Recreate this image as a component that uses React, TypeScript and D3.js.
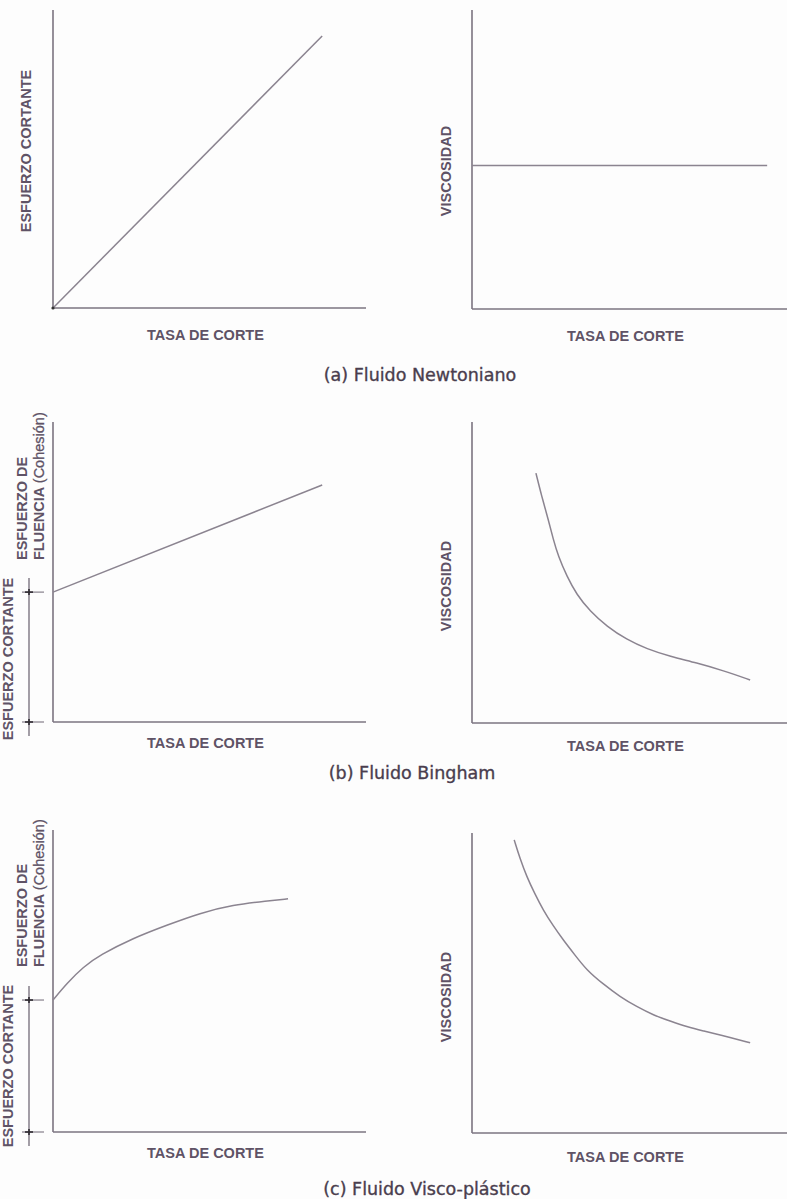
import * as d3 from 'd3';

// Normalised units: both axes go 0..10 in every panel
const newtonShear: [number, number][] = [[0, 0], [8.6, 9.13]];
const newtonVisc: [number, number][] = [[0, 4.8], [9.37, 4.8]];
const binghamShear: [number, number][] = [[0, 4.33], [8.6, 7.9]];
const binghamVisc: [number, number][] = [
  [2.03, 8.3], [2.21, 7.54], [2.42, 6.77], [2.58, 6.1], [2.74, 5.54], [3.01, 4.88],
  [3.32, 4.27], [3.75, 3.71], [4.28, 3.21], [4.91, 2.77], [5.55, 2.46], [6.29, 2.21],
  [7.13, 2.0], [7.98, 1.74], [8.83, 1.43],
];
const viscoShear: [number, number][] = [
  [0, 4.37], [0.45, 4.93], [0.96, 5.46], [1.5, 5.86], [2.56, 6.42], [3.64, 6.85],
  [4.7, 7.25], [5.75, 7.52], [6.84, 7.65], [7.51, 7.72],
];
const viscoVisc: [number, number][] = [
  [1.34, 9.77], [1.52, 9.16], [1.74, 8.54], [2.0, 7.96], [2.26, 7.43], [2.58, 6.9],
  [2.9, 6.43], [3.27, 5.93], [3.64, 5.43], [4.17, 4.96], [4.7, 4.54], [5.23, 4.21],
  [5.76, 3.93], [6.29, 3.73], [6.82, 3.54], [7.35, 3.4], [7.87, 3.27], [8.83, 3.01],
];
const yieldStress = [4.33, 4.37]; // bingham, visco-plastic
const captions = ['(a) Fluido Newtoniano', '(b) Fluido Bingham', '(c) Fluido Visco-plástico'];
const xTitle = 'TASA DE CORTE';
const shearTitle = 'ESFUERZO CORTANTE';
const viscTitle = 'VISCOSIDAD';
const yieldTitle = ['ESFUERZO DE', 'FLUENCIA'];

const W = 787;
const H = 1199;
const LINE = '#8b8490';
const AXIS = '#7b7480';
const TEXT = '#5f5366';
const LABEL_FONT = '"Liberation Sans", Arial, sans-serif';
const FS = 14.5;

const rows = [
  { left: [308, 10], right: [309, 10], caption: [420, 381], xt: [340, 341] },
  { left: [722, 422], right: [723, 422], caption: [412, 779], xt: [748, 751] },
  { left: [1132, 830], right: [1133, 833], caption: [427, 1195], xt: [1158, 1162] },
];

type Pt = [number, number];

function Panel({ xRange, yRange, data, curved, titleY }: {
  xRange: number[]; yRange: number[]; data: Pt[]; curved: boolean; titleY: number;
}) {
  const x = d3.scaleLinear().domain([0, 10]).range(xRange);
  const y = d3.scaleLinear().domain([0, 10]).range(yRange);
  const line = d3.line<Pt>()
    .x(d => x(d[0]))
    .y(d => y(d[1]))
    .curve(curved ? d3.curveBasis : d3.curveLinear);
  return (
    <g>
      <line x1={x(0)} x2={x(0)} y1={y(10)} y2={y(0)} stroke={AXIS} strokeWidth={1.6} />
      <line x1={x(0)} x2={x(10)} y1={y(0)} y2={y(0)} stroke={AXIS} strokeWidth={1.6} />
      <path d={line(data) || ''} fill="none" stroke={LINE} strokeWidth={1.5} />
      <text x={(xRange[0] + xRange[1]) / 2 - 4} y={titleY} textAnchor="middle"
        fontFamily={LABEL_FONT} fontWeight="bold" fontSize={FS} fill={TEXT}>{xTitle}</text>
    </g>
  );
}

function YieldBracket({ yRange, value }: { yRange: number[]; value: number }) {
  const y = d3.scaleLinear().domain([0, 10]).range(yRange);
  const top = y(value);
  const bottom = y(0);
  return (
    <g stroke={AXIS}>
      <line x1={29} x2={29} y1={top - 14} y2={bottom + 14} strokeWidth={1.4} />
      {[top, bottom].map((t, i) => (
        <g key={i}>
          <line x1={22} x2={44} y1={t} y2={t} strokeWidth={1.1} />
          <line x1={25} x2={33} y1={t} y2={t} stroke="#2e2a30" strokeWidth={1.6} />
          <line x1={29} x2={29} y1={t - 3} y2={t + 3} stroke="#2e2a30" strokeWidth={1.6} />
        </g>
      ))}
    </g>
  );
}

function RotLabel({ x, y, anchor, children }: any) {
  return (
    <text transform={`translate(${x},${y}) rotate(-90)`} textAnchor={anchor}
      fontFamily={LABEL_FONT} fontWeight="bold" fontSize={FS} fill={TEXT}>{children}</text>
  );
}

export default function App() {
  const leftX = [53, 366];
  const rightX = [472, 787];
  return (
    <svg width={W} height={H} style={{ position: 'absolute', left: 0, top: 0, background: '#fdfdfd' }}>
      {/* (a) Newtonian */}
      <Panel xRange={leftX} yRange={rows[0].left} data={newtonShear} curved={false} titleY={rows[0].xt[0]} />
      <Panel xRange={rightX} yRange={rows[0].right} data={newtonVisc} curved={false} titleY={rows[0].xt[1]} />
      <circle cx={53} cy={308} r={1.6} fill="#333" />
      <RotLabel x={31} y={151} anchor="middle">{shearTitle}</RotLabel>
      <RotLabel x={451} y={171} anchor="middle">{viscTitle}</RotLabel>

      {/* (b) Bingham */}
      <Panel xRange={leftX} yRange={rows[1].left} data={binghamShear} curved={false} titleY={rows[1].xt[0]} />
      <Panel xRange={rightX} yRange={rows[1].right} data={binghamVisc} curved={true} titleY={rows[1].xt[1]} />
      <YieldBracket yRange={rows[1].left} value={yieldStress[0]} />
      <RotLabel x={12.5} y={659} anchor="middle">{shearTitle}</RotLabel>
      <RotLabel x={27} y={560} anchor="start">{yieldTitle[0]}</RotLabel>
      <RotLabel x={44} y={560} anchor="start">
        {yieldTitle[1]} <tspan fontWeight="normal" stroke={TEXT} strokeWidth={0.3}>(Cohesión)</tspan>
      </RotLabel>
      <RotLabel x={451} y={586} anchor="middle">{viscTitle}</RotLabel>

      {/* (c) Visco-plastic */}
      <Panel xRange={leftX} yRange={rows[2].left} data={viscoShear} curved={true} titleY={rows[2].xt[0]} />
      <Panel xRange={rightX} yRange={rows[2].right} data={viscoVisc} curved={true} titleY={rows[2].xt[1]} />
      <YieldBracket yRange={rows[2].left} value={yieldStress[1]} />
      <RotLabel x={12.5} y={1066} anchor="middle">{shearTitle}</RotLabel>
      <RotLabel x={27} y={967} anchor="start">{yieldTitle[0]}</RotLabel>
      <RotLabel x={44} y={967} anchor="start">
        {yieldTitle[1]} <tspan fontWeight="normal" stroke={TEXT} strokeWidth={0.3}>(Cohesión)</tspan>
      </RotLabel>
      <RotLabel x={451} y={997} anchor="middle">{viscTitle}</RotLabel>

      {rows.map((r, i) => (
        <text key={i} x={r.caption[0]} y={r.caption[1]} textAnchor="middle"
          fontFamily='"DejaVu Sans", sans-serif' fontSize={17.5} fill="#4a3e4e"
          stroke="#4a3e4e" strokeWidth={0.35}>{captions[i]}</text>
      ))}
    </svg>
  );
}
